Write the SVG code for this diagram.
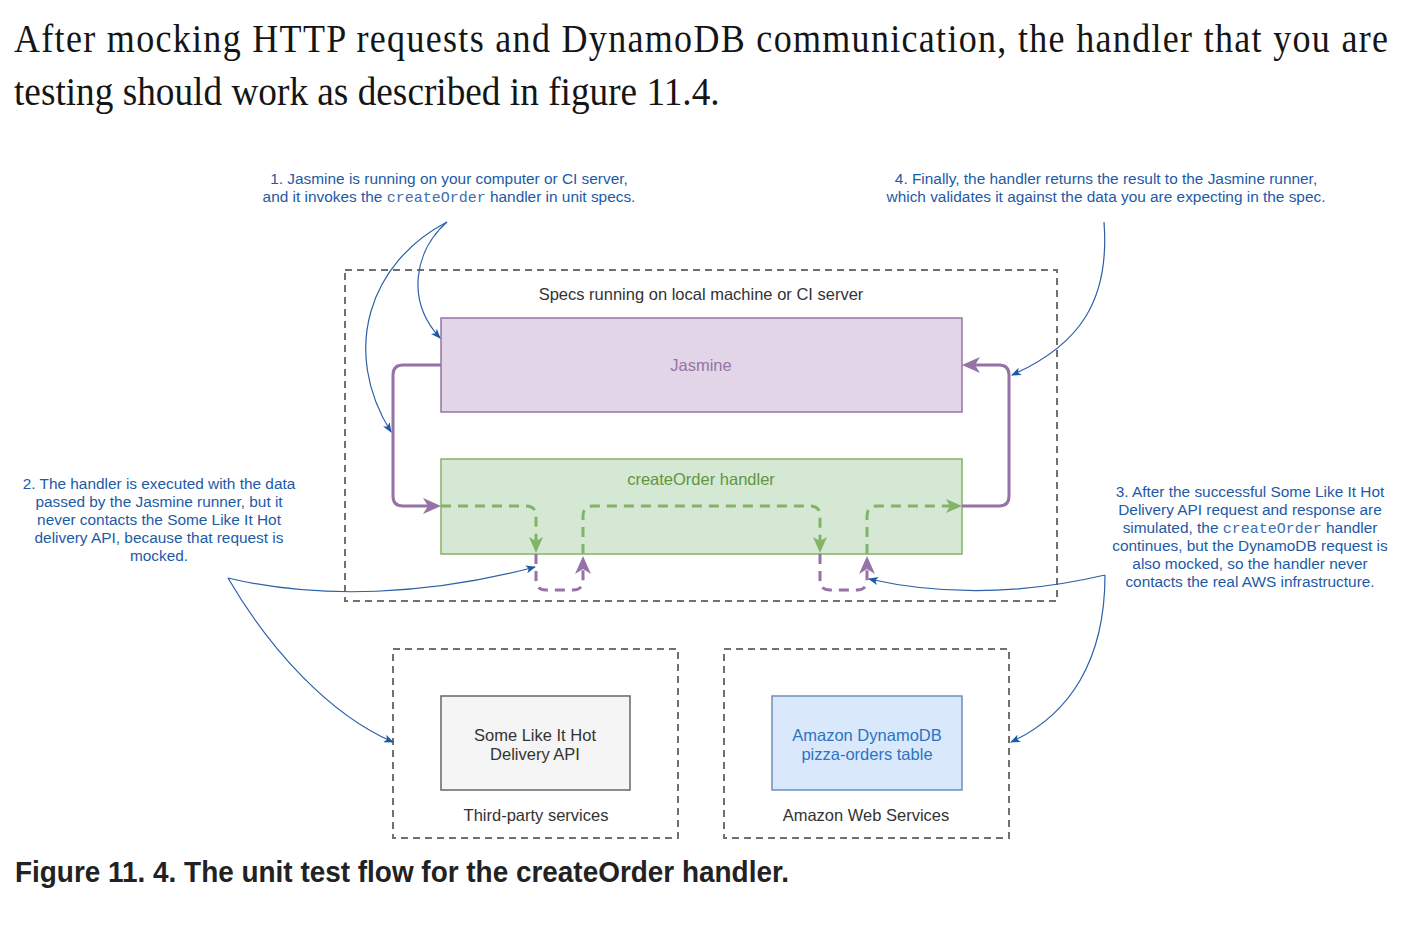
<svg xmlns="http://www.w3.org/2000/svg" width="1424" height="940" viewBox="0 0 1424 940">
<style>
.body{font-family:"Liberation Serif","Times New Roman",serif;font-size:40px;fill:#151515}
.cap{font-family:"Liberation Sans",Arial,sans-serif;font-size:29px;font-weight:bold;fill:#222}
.lbl{font-family:"Liberation Sans",Arial,sans-serif;font-size:16.5px;fill:#333;text-anchor:middle}
.ann{font-family:"Liberation Sans",Arial,sans-serif;font-size:15.4px;fill:#1d5aa6;text-anchor:middle}
.mono{font-family:"Liberation Mono","Courier New",monospace;font-size:15px;fill:#3f6fae}
.grp{fill:none;stroke:#707070;stroke-width:2;stroke-dasharray:7 5}
.pur{fill:none;stroke:#9673a6;stroke-width:3}
.purd{fill:none;stroke:#9673a6;stroke-width:3;stroke-dasharray:10 7}
.grn{fill:none;stroke:#82b366;stroke-width:3;stroke-dasharray:10 7}
.blu{fill:none;stroke:#2b5fa6;stroke-width:1.2}
</style>
<defs>
<marker id="ap" viewBox="0 0 18 16" refX="13" refY="8" markerWidth="18" markerHeight="16" markerUnits="userSpaceOnUse" orient="auto"><path d="M0,0 L18,8 L0,16 L5,8 z" fill="#9673a6"/></marker>
<marker id="ag" viewBox="0 0 16 14" refX="12" refY="7" markerWidth="16" markerHeight="14" markerUnits="userSpaceOnUse" orient="auto"><path d="M0,0 L16,7 L0,14 L4,7 z" fill="#82b366"/></marker>
<marker id="ab" viewBox="0 0 10 8" refX="9" refY="4" markerWidth="10" markerHeight="8" markerUnits="userSpaceOnUse" orient="auto"><path d="M0,0 L10,4 L0,8 L2.5,4 z" fill="#1d5aa6"/></marker>
</defs>
<rect width="1424" height="940" fill="#fff"/>

<g id="paragraph" transform="scale(0.9 1)">
<text class="body" x="15.56" y="52" textLength="1526.7" lengthAdjust="spacing">After mocking HTTP requests and DynamoDB communication, the handler that you are</text>
<text class="body" x="15.56" y="105" textLength="784" lengthAdjust="spacingAndGlyphs">testing should work as described in figure 11.4.</text>
</g>

<g id="group-specs">
<rect class="grp" x="345" y="270" width="712" height="331"/>
<text class="lbl" x="701" y="300">Specs running on local machine or CI server</text>
</g>
<g id="group-third-party">
<rect class="grp" x="393" y="649" width="285" height="189"/>
<text class="lbl" x="536" y="821">Third-party services</text>
</g>
<g id="group-aws">
<rect class="grp" x="724" y="649" width="285" height="189"/>
<text class="lbl" x="866" y="821">Amazon Web Services</text>
</g>

<g id="jasmine">
<rect x="441" y="318" width="521" height="94" fill="#e1d5e7" stroke="#9673a6" stroke-width="1.5"/>
<text class="lbl" x="701" y="371" style="fill:#9673a6">Jasmine</text>
</g>
<g id="create-order-handler">
<rect x="441" y="459" width="521" height="95" fill="#d5e8d4" stroke="#82b366" stroke-width="1.5"/>
<text class="lbl" x="701" y="485" style="fill:#5f963f">createOrder handler</text>
</g>
<g id="delivery-api">
<rect x="441" y="696" width="189" height="94" fill="#f5f5f5" stroke="#666" stroke-width="1.5"/>
<text class="lbl" x="535" y="741">Some Like It Hot</text>
<text class="lbl" x="535" y="760">Delivery API</text>
</g>
<g id="dynamodb">
<rect x="772" y="696" width="190" height="94" fill="#dae8fc" stroke="#6c8ebf" stroke-width="1.5"/>
<text class="lbl" x="867" y="741" style="fill:#2a74c2">Amazon DynamoDB</text>
<text class="lbl" x="867" y="760" style="fill:#2a74c2">pizza-orders table</text>
</g>

<g id="note-1">
<text class="ann" x="449" y="184">1. Jasmine is running on your computer or CI server,</text>
<text class="ann" x="449" y="202">and it invokes the <tspan class="mono">createOrder</tspan> handler in unit specs.</text>
</g>
<g id="note-2">
<text class="ann" x="159" y="489">2. The handler is executed with the data</text>
<text class="ann" x="159" y="507">passed by the Jasmine runner, but it</text>
<text class="ann" x="159" y="525">never contacts the Some Like It Hot</text>
<text class="ann" x="159" y="543">delivery API, because that request is</text>
<text class="ann" x="159" y="561">mocked.</text>
</g>
<g id="note-3">
<text class="ann" x="1250" y="497">3. After the successful Some Like It Hot</text>
<text class="ann" x="1250" y="515">Delivery API request and response are</text>
<text class="ann" x="1250" y="533">simulated, the <tspan class="mono">createOrder</tspan> handler</text>
<text class="ann" x="1250" y="551">continues, but the DynamoDB request is</text>
<text class="ann" x="1250" y="569">also mocked, so the handler never</text>
<text class="ann" x="1250" y="587">contacts the real AWS infrastructure.</text>
</g>
<g id="note-4">
<text class="ann" x="1106" y="184">4. Finally, the handler returns the result to the Jasmine runner,</text>
<text class="ann" x="1106" y="202">which validates it against the data you are expecting in the spec.</text>
</g>

<g id="connectors">
<path class="pur" d="M441,365 H403 Q393,365 393,375 V496 Q393,506 403,506 H436" marker-end="url(#ap)"/>
<path class="pur" d="M962,506 H999 Q1009,506 1009,496 V375 Q1009,365 999,365 H967" marker-end="url(#ap)"/>
<path class="purd" d="M536,554 V580 Q536,590 546,590 H573 Q583,590 583,580 V561" marker-end="url(#ap)"/>
<path class="purd" d="M820,554 V580 Q820,590 830,590 H857 Q867,590 867,580 V561" marker-end="url(#ap)"/>
<path class="grn" d="M441,506 H526 Q536,506 536,516 V549" marker-end="url(#ag)"/>
<path class="grn" d="M583,554 V516 Q583,506 593,506 H810 Q820,506 820,516 V549" marker-end="url(#ag)"/>
<path class="grn" d="M867,554 V516 Q867,506 877,506 H958" marker-end="url(#ag)"/>
<path class="blu" d="M447,222 C415,250 405,300 440,338" marker-end="url(#ab)"/>
<path class="blu" d="M447,222 C370,262 340,350 391,432" marker-end="url(#ab)"/>
<path class="blu" d="M1104,222 C1110,300 1080,345 1012,375" marker-end="url(#ab)"/>
<path class="blu" d="M228,578 C320,600 430,595 535,567" marker-end="url(#ab)"/>
<path class="blu" d="M228,578 C270,650 330,715 393,742" marker-end="url(#ab)"/>
<path class="blu" d="M1105,575 C1020,595 940,595 869,579" marker-end="url(#ab)"/>
<path class="blu" d="M1105,575 C1105,660 1070,715 1011,742" marker-end="url(#ab)"/>
</g>

<g id="caption">
<text class="cap" x="15" y="882" textLength="774" lengthAdjust="spacingAndGlyphs">Figure 11. 4. The unit test flow for the createOrder handler.</text>
</g>
</svg>
